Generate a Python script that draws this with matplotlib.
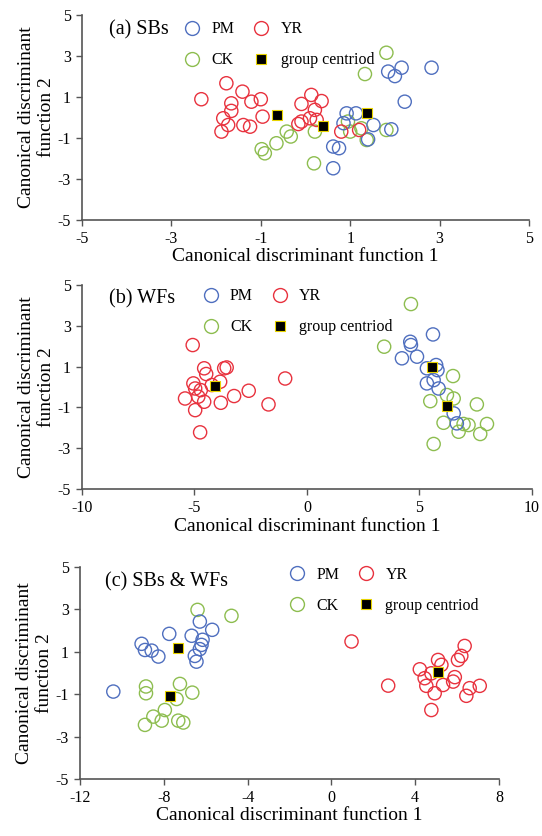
import numpy as np
import matplotlib.pyplot as plt
from matplotlib.lines import Line2D

plt.rcParams['font.family'] = ['Liberation Serif', 'DejaVu Serif']
plt.rcParams['axes.unicode_minus'] = False

# (a) SBs
a_pm_x = [2.82, 1.85, 2.15, 2.00, 2.22, 0.92, 1.13, 1.52, 1.40, 1.92, 0.62, 0.75, 0.62, 0.85]
a_pm_y = [2.43, 2.24, 2.43, 2.02, 0.77, 0.20, 0.20, -0.37, -1.07, -0.58, -1.42, -1.50, -2.48, -0.28]
a_yr_x = [-2.33, -1.77, -1.41, -1.66, -1.21, -1.00, -1.66, -1.84, -1.73, -1.88, -1.39, -1.24,
          -0.96, -0.09, 0.13, 0.36, 0.21, -0.09, 0.10, 0.25, 0.80, 1.20, -0.16]
a_yr_y = [0.89, 1.67, 1.26, 0.69, 0.77, 0.89, 0.32, -0.04, -0.37, -0.69, -0.37, -0.45,
          0.04, 0.66, 1.10, 0.80, 0.37, -0.20, -0.04, -0.12, -0.69, -0.61, -0.32]
a_ck_x = [1.81, 1.33, -0.98, -0.91, -0.65, -0.42, -0.33, 0.19, 0.21, 1.00, 1.25, 1.37, 1.81, 0.95]
a_ck_y = [3.16, 2.12, -1.55, -1.75, -1.26, -0.69, -0.93, -2.24, -0.69, -0.69, -0.53, -1.10, -0.61, -0.20]
a_cen_x = [-0.63, 0.40, 1.38]
a_cen_y = [0.12, -0.40, 0.20]

# (b) WFs
b_pm_x = [5.60, 4.59, 4.62, 4.22, 4.89, 5.33, 5.74, 5.80, 5.33, 5.63, 5.85, 6.52, 6.66]
b_pm_y = [2.58, 2.22, 2.06, 1.41, 1.49, 0.92, 1.08, 0.83, 0.18, 0.34, -0.07, -1.29, -1.78]
b_yr_x = [-5.08, -4.57, -4.48, -3.68, -3.57, -5.05, -4.97, -3.86, -4.23, -5.42, -4.83, -4.57,
          -4.97, -3.83, -3.24, -2.59, -0.97, -1.71, -4.75, -4.72]
b_yr_y = [2.06, 0.92, 0.64, 0.92, 0.96, 0.18, -0.07, 0.26, 0.10, -0.56, -0.47, -0.72,
          -1.13, -0.77, -0.44, -0.18, 0.42, -0.85, -2.22, -0.15]
b_ck_x = [4.62, 3.43, 6.49, 5.48, 6.52, 7.55, 6.07, 6.74, 6.96, 7.18, 8.00, 7.70, 5.63, 6.22]
b_ck_y = [4.07, 1.98, 0.54, -0.69, -0.56, -0.85, -1.75, -2.19, -1.81, -1.86, -1.81, -2.30, -2.79, -0.39]
b_cen_x = [-4.11, 5.55, 6.22]
b_cen_y = [0.05, 1.00, -0.93]

# (c) SBs & WFs
c_pm_x = [-10.41, -9.06, -8.90, -8.58, -8.26, -7.74, -6.67, -6.28, -5.69, -6.15, -6.20, -6.28, -6.52, -6.44]
c_pm_y = [-0.88, 1.37, 1.08, 1.05, 0.77, 1.84, 1.75, 2.42, 2.03, 1.56, 1.32, 1.12, 0.80, 0.53]
c_yr_x = [0.96, 2.71, 6.36, 6.20, 6.04, 5.09, 5.25, 4.22, 4.45, 4.53, 4.93, 5.33, 5.89, 5.81,
          6.60, 6.44, 7.08, 4.77, 4.77]
c_yr_y = [1.48, -0.60, 1.27, 0.80, 0.61, 0.61, 0.38, 0.17, -0.25, -0.61, -0.96, -0.57, -0.20, -0.41,
          -0.72, -1.08, -0.61, -1.75, -0.02]
c_ck_x = [-6.39, -4.77, -8.85, -8.85, -7.23, -6.64, -7.39, -7.95, -8.50, -8.90, -8.10, -7.31, -7.07]
c_ck_y = [2.97, 2.69, -0.64, -0.96, -0.52, -0.93, -1.23, -1.75, -2.06, -2.45, -2.25, -2.25, -2.34]
c_cen_x = [-7.34, -7.71, 5.09]
c_cen_y = [1.19, -1.07, 0.03]

col = {'PM': '#4f6fbf', 'YR': '#e8323e', 'CK': '#8dbd4f'}
axis_col = '#555555'

fig = plt.figure(figsize=(5.42, 8.36), dpi=100)

def panel(rect, title, pm, yr, ck, cen, xlim, xticks, leg_anchor):
  ax = fig.add_axes(rect)
  for key, (xs, ys) in [('CK', ck), ('PM', pm), ('YR', yr)]:
    ax.scatter(xs, ys, s=90, facecolors='none', edgecolors=col[key], linewidths=1.0, clip_on=False)
  ax.scatter(cen[0], cen[1], s=44, marker='s', c='black', edgecolors='#e8d400', linewidths=0.8, zorder=5)
  ax.set_xlim(*xlim)
  ax.set_ylim(-5, 5)
  ax.set_xticks(xticks)
  ax.set_yticks([-5, -3, -1, 1, 3, 5])
  for s in ['top', 'right']:
    ax.spines[s].set_visible(False)
  for s in ['left', 'bottom']:
    ax.spines[s].set_color(axis_col)
    ax.spines[s].set_linewidth(1.2)
  ax.tick_params(direction='out', length=4, width=1, color=axis_col, labelsize=11.5, pad=4)
  ax.set_xlabel('Canonical discriminant function 1', fontsize=14, labelpad=1)
  ax.set_ylabel('Canonical discriminant\nfunction 2', fontsize=14, labelpad=2, linespacing=1.2)
  ax.text(0.06, 0.93, title, transform=ax.transAxes, fontsize=14.5, va='center', ha='left')
  handles = [
    Line2D([], [], marker='o', ls='none', mfc='none', mec=col['PM'], ms=10, mew=1.0),
    Line2D([], [], marker='o', ls='none', mfc='none', mec=col['CK'], ms=10, mew=1.0),
    Line2D([], [], marker='o', ls='none', mfc='none', mec=col['YR'], ms=10, mew=1.0),
    Line2D([], [], marker='s', ls='none', mfc='black', mec='#e8d400', ms=6.6, mew=0.8),
  ]
  ax.legend(handles, ['PM', 'CK', 'YR', 'group centriod'], ncol=2, frameon=False,
            loc='upper left', bbox_to_anchor=leg_anchor, fontsize=11.5,
            handletextpad=0.6, columnspacing=1.1, labelspacing=0.95, handlelength=1.2,
            borderpad=0, borderaxespad=0)
  return ax

panel([0.1513, 0.737, 0.8247, 0.245], '(a) SBs', (a_pm_x, a_pm_y), (a_yr_x, a_yr_y),
      (a_ck_x, a_ck_y), (a_cen_x, a_cen_y), (-5, 5), [-5, -3, -1, 1, 3, 5], (0.225, 0.97))
panel([0.1513, 0.415, 0.8302, 0.244], '(b) WFs', (b_pm_x, b_pm_y), (b_yr_x, b_yr_y),
      (b_ck_x, b_ck_y), (b_cen_x, b_cen_y), (-10, 10), [-10, -5, 0, 5, 10], (0.265, 0.985))
panel([0.1476, 0.0682, 0.7731, 0.2538], '(c) SBs & WFs', (c_pm_x, c_pm_y), (c_yr_x, c_yr_y),
      (c_ck_x, c_ck_y), (c_cen_x, c_cen_y), (-12, 8), [-12, -8, -4, 0, 4, 8], (0.495, 1.0))

fig.savefig('out.png', dpi=100)
